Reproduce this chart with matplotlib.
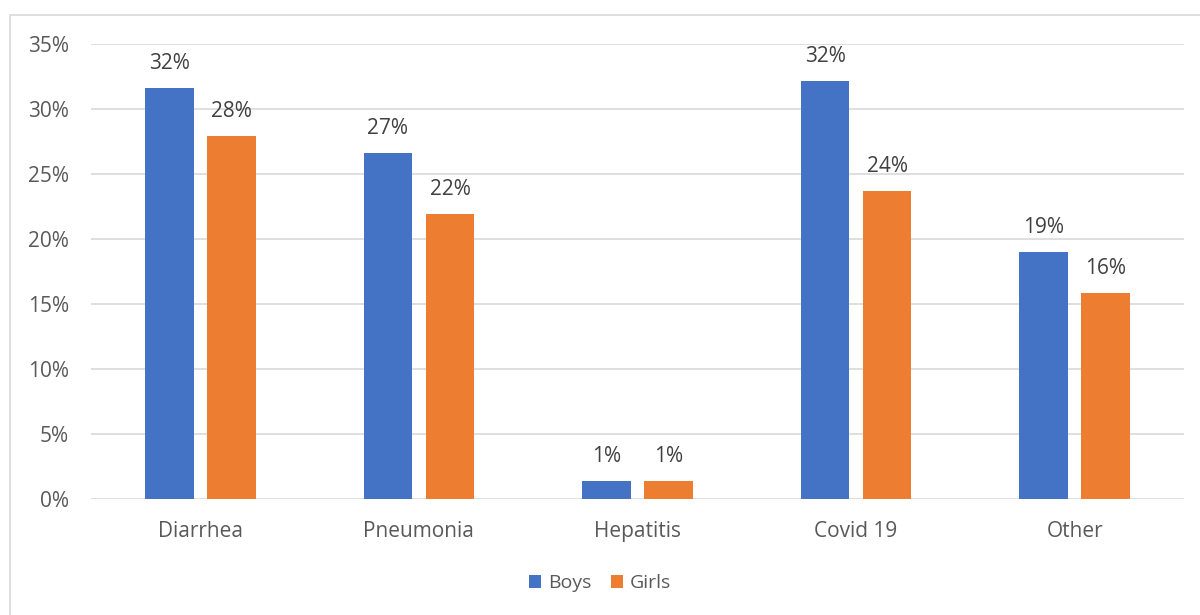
import matplotlib
matplotlib.use("Agg")
import matplotlib.pyplot as plt
from matplotlib.patches import Rectangle
from matplotlib.ticker import PercentFormatter
import numpy as np

categories = ["Diarrhea", "Pneumonia", "Hepatitis", "Covid 19", "Other"]
boys = [31.6, 26.6, 1.4, 32.1, 19.0]
girls = [27.9, 21.9, 1.4, 23.7, 15.8]
series_names = ["Boys", "Girls"]
yticks = [0, 5, 10, 15, 20, 25, 30, 35]

plt.rcParams["font.family"] = ["Open Sans", "DejaVu Sans"]
text_grey = "#595959"
label_grey = "#404040"
blue = "#4472C4"
orange = "#ED7D31"
fs = 15

fig = plt.figure(figsize=(12, 6.15), dpi=100)
fig.patches.append(Rectangle((10 / 1200, -0.1), 1.2, (615 - 14.5) / 615 + 0.1,
                             transform=fig.transFigure, fill=False,
                             edgecolor="#d9d9d9", linewidth=1.2))
ax = fig.add_axes([91 / 1200, (615 - 499) / 615, 1093 / 1200, 455.5 / 615])

x = np.arange(len(categories))
width = 0.222
offset = (width + 0.062) / 2
bars_b = ax.bar(x - offset, boys, width, color=blue, label=series_names[0], zorder=3)
bars_g = ax.bar(x + offset, girls, width, color=orange, label=series_names[1], zorder=3)

for bars, vals in ((bars_b, boys), (bars_g, girls)):
    for b, v in zip(bars, vals):
        ax.annotate(f"{v:.0f}%", (b.get_x() + b.get_width() / 2, v),
                    xytext=(0, 10), textcoords="offset points",
                    ha="center", va="bottom", fontsize=fs, color=label_grey)

ax.set_xlim(-0.5, len(categories) - 0.5)
ax.set_ylim(0, 35)
ax.set_yticks(yticks)
ax.yaxis.set_major_formatter(PercentFormatter(decimals=0))
ax.set_xticks(x)
ax.set_xticklabels(categories)
ax.grid(axis="y", color="#d9d9d9", linewidth=1.2, zorder=0)
for s in ax.spines.values():
    s.set_visible(False)
ax.tick_params(axis="both", length=0, labelsize=fs, colors=text_grey)
ax.tick_params(axis="y", pad=16)
ax.tick_params(axis="x", pad=16)

ax.legend(loc="center", bbox_to_anchor=(0.5, (615 - 583) / 615), bbox_transform=fig.transFigure,
          ncol=2, frameon=False, fontsize=14, labelcolor=text_grey,
          handlelength=0.65, handleheight=0.65, handletextpad=0.35, columnspacing=1.0)

fig.savefig("out.png", dpi=100)
